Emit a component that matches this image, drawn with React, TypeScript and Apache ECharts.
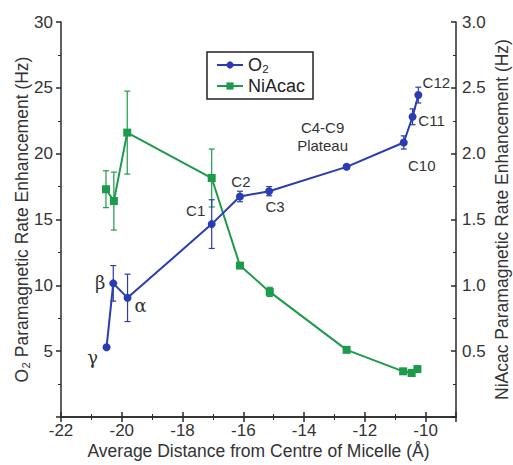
import React, { useEffect, useRef } from "react";
import * as echarts from "echarts";

// O2 data (left axis)
const o2X = [-20.5, -20.28, -19.81, -17.04, -16.11, -15.15, -12.6, -10.72, -10.43, -10.24];
const o2Y = [5.3, 10.15, 9.05, 14.65, 16.75, 17.15, 19.0, 20.85, 22.8, 24.45];
const o2Err = [0.15, 1.35, 1.8, 1.85, 0.4, 0.35, 0.15, 0.5, 0.6, 0.6];
const o2Labels = ["γ", "β", "α", "C1", "C2", "C3", "C4-C9\nPlateau", "C10", "C11", "C12"];
const o2LabelOffsets: [number, number][] = [
  [-14, 10], [-13, -1], [13, 8], [-16, -14], [1, -15], [6, 15], [-24, -30], [18, 23], [19, 4], [18, -13],
];

// NiAcac data (right axis)
const niX = [-20.52, -20.26, -19.82, -17.04, -16.11, -15.13, -12.6, -10.74, -10.46, -10.27];
const niY = [1.73, 1.64, 2.16, 1.815, 1.15, 0.95, 0.51, 0.347, 0.334, 0.364];
const niErr = [0.14, 0.22, 0.315, 0.22, 0.02, 0.035, 0.015, 0.015, 0.015, 0.02];

const BLUE = "#2a3cb2";
const GREEN = "#1e9a4c";
const AXIS = "#2a2a2a";
const FONT = "Liberation Sans, Arial, sans-serif";

function errRender(color: string) {
  return (params: any, api: any) => {
    const x = api.value(0);
    const lo = api.coord([x, api.value(1)]);
    const hi = api.coord([x, api.value(2)]);
    const w = 3;
    const style = { stroke: color, lineWidth: 1.2 };
    return {
      type: "group",
      children: [
        { type: "line", shape: { x1: lo[0], y1: lo[1], x2: hi[0], y2: hi[1] }, style },
        { type: "line", shape: { x1: lo[0] - w, y1: lo[1], x2: lo[0] + w, y2: lo[1] }, style },
        { type: "line", shape: { x1: hi[0] - w, y1: hi[1], x2: hi[0] + w, y2: hi[1] }, style },
      ],
    };
  };
}

export default function App() {
  const ref = useRef<HTMLDivElement>(null);
  useEffect(() => {
    if (!ref.current) return;
    const chart = echarts.init(ref.current, undefined, { renderer: "svg" });
    const o2Data = o2X.map((x, i) => ({
      value: [x, o2Y[i]],
      label: {
        show: true,
        formatter: o2Labels[i],
        position: "inside",
        align: "center",
        verticalAlign: "middle",
        offset: o2LabelOffsets[i],
        color: "#333",
        fontSize: i < 3 ? 18 : 15,
        fontFamily: i < 3 ? "DejaVu Serif, serif" : FONT,
        lineHeight: 18,
      },
    }));
    const niData = niX.map((x, i) => [x, niY[i]]);
    const o2ErrData = o2X.map((x, i) => [x, o2Y[i] - o2Err[i], o2Y[i] + o2Err[i]]);
    const niErrData = niX.map((x, i) => [x, niY[i] - niErr[i], niY[i] + niErr[i]]);

    const axisLine = { show: true, lineStyle: { color: AXIS, width: 1.5 } };
    const labelStyle = { color: "#333", fontSize: 17, fontFamily: FONT };
    const nameStyle = { fontSize: 17.5, color: "#333", fontFamily: FONT };

    chart.setOption({
      animation: false,
      textStyle: { fontFamily: FONT },
      grid: { left: 61, right: 57, top: 22, bottom: 48, containLabel: false, outerBoundsMode: "none" },
      legend: {
        left: 207,
        top: 52,
        orient: "vertical",
        itemWidth: 26,
        itemHeight: 9,
        itemGap: 3,
        padding: [4, 8, 4, 9],
        borderColor: "#222",
        borderWidth: 1.5,
        textStyle: { fontSize: 18, color: "#222", fontFamily: FONT },
        data: ["O₂", "NiAcac"],
      },
      xAxis: [
        {
          type: "value",
          min: -22,
          max: -9,
          interval: 2,
          name: "Average Distance from Centre of Micelle (Å)",
          nameLocation: "middle",
          nameGap: 25,
          nameMoveOverlap: false,
          nameTextStyle: nameStyle,
          axisLine,
          axisTick: { inside: true, length: 5, lineStyle: { color: AXIS, width: 1.5 } },
          minorTick: { show: true, splitNumber: 2, length: 3, lineStyle: { color: AXIS } },
          axisLabel: { ...labelStyle, showMaxLabel: false, margin: 5 },
          splitLine: { show: false },
        },
        {
          type: "value",
          position: "top",
          min: -22,
          max: -9,
          interval: 2,
          axisLine,
          axisTick: { inside: true, length: 5, lineStyle: { color: AXIS, width: 1.5 } },
          minorTick: { show: true, splitNumber: 2, length: 3, lineStyle: { color: AXIS } },
          axisLabel: { show: false },
          splitLine: { show: false },
        },
      ],
      yAxis: [
        {
          type: "value",
          min: 0,
          max: 30,
          interval: 5,
          name: "O₂ Paramagnetic Rate Enhancement (Hz)",
          nameLocation: "middle",
          nameGap: 30,
          nameMoveOverlap: false,
          nameTextStyle: nameStyle,
          axisLine,
          axisTick: { inside: false, length: 5, lineStyle: { color: AXIS, width: 1.5 } },
          minorTick: { show: true, splitNumber: 2, length: 3, lineStyle: { color: AXIS } },
          axisLabel: { ...labelStyle, showMinLabel: false, margin: 8 },
          splitLine: { show: false },
        },
        {
          type: "value",
          min: 0,
          max: 3,
          interval: 0.5,
          position: "right",
          name: "NiAcac Paramagnetic Rate Enhancement (Hz)",
          nameLocation: "middle",
          nameGap: 37,
          nameMoveOverlap: false,
          nameRotate: 90,
          nameTextStyle: nameStyle,
          axisLine,
          axisTick: { inside: true, length: 5, lineStyle: { color: AXIS, width: 1.5 } },
          minorTick: { show: true, splitNumber: 2, length: 3, lineStyle: { color: AXIS } },
          axisLabel: { ...labelStyle, showMinLabel: false, margin: 6, formatter: (v: number) => v.toFixed(1) },
          splitLine: { show: false },
        },
      ],
      series: [
        {
          name: "NiAcac",
          type: "line",
          yAxisIndex: 1,
          data: niData,
          symbol: "rect",
          symbolSize: 8,
          itemStyle: { color: GREEN },
          lineStyle: { color: GREEN, width: 2 },
          z: 2,
        },
        {
          type: "custom",
          yAxisIndex: 1,
          data: niErrData,
          renderItem: errRender(GREEN),
          encode: { x: 0, y: [1, 2] },
          z: 2,
          silent: true,
        },
        {
          name: "O₂",
          type: "line",
          data: o2Data,
          symbol: "circle",
          symbolSize: 8,
          itemStyle: { color: BLUE },
          lineStyle: { color: BLUE, width: 2 },
          z: 3,
        },
        {
          type: "custom",
          data: o2ErrData,
          renderItem: errRender(BLUE),
          encode: { x: 0, y: [1, 2] },
          z: 3,
          silent: true,
        },
      ],
    });
    return () => chart.dispose();
  }, []);
  return (
    <div
      ref={ref}
      style={{ position: "fixed", left: 0, top: 0, width: 513, height: 465, background: "#fff" }}
    />
  );
}
